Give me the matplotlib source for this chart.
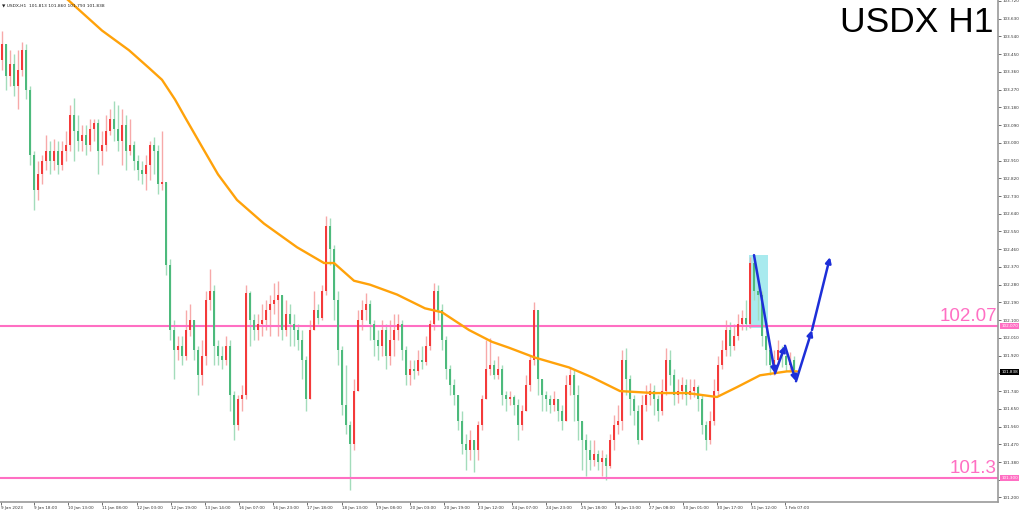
import numpy as np
import matplotlib
matplotlib.use("Agg")
import matplotlib.pyplot as plt
from matplotlib.patches import Rectangle

# ---- data (hourly candles, resampled ~2 bars each) ----
first_open = 103.42
closes = [
    103.50, 103.34, 103.40, 103.29, 103.37, 103.47, 103.27, 102.94, 102.76, 102.84,
    102.91, 102.96, 102.91, 102.96, 102.89, 102.96, 102.99, 103.14, 103.06, 103.01,
    103.04, 102.99, 103.07, 103.10, 102.96, 102.99, 103.06, 103.12, 103.07, 103.01,
    103.09, 102.96, 102.99, 102.91, 102.86, 102.84, 102.89, 102.99, 102.96, 102.79,
    102.80, 102.38, 102.05, 101.95, 101.97, 101.92, 102.05, 102.10, 101.95, 101.82,
    101.92, 102.20, 102.25, 101.97, 101.92, 101.90, 101.97, 101.72, 101.57, 101.70,
    101.72, 102.24, 102.10, 102.05, 102.08, 102.10, 102.15, 102.18, 102.20, 102.23,
    102.05, 102.13, 102.08, 102.05, 102.00, 101.90, 101.70, 102.05, 102.15, 102.11,
    102.25, 102.58, 102.46, 102.20, 101.95, 101.67, 101.57, 101.47, 101.74, 102.10,
    102.15, 102.18, 102.08, 102.00, 101.97, 102.05, 101.92, 102.00, 102.05, 102.08,
    101.95, 101.82, 101.85, 101.84, 101.90, 101.89, 101.97, 102.08, 102.25, 102.15,
    102.00, 101.85, 101.77, 101.72, 101.59, 101.47, 101.44, 101.49, 101.44, 101.57,
    101.70, 101.85, 101.87, 101.82, 101.85, 101.72, 101.70, 101.71, 101.67, 101.57,
    101.64, 101.77, 101.90, 102.15, 101.80, 101.72, 101.70, 101.67, 101.70, 101.64,
    101.59, 101.77, 101.82, 101.72, 101.59, 101.49, 101.44, 101.39, 101.42, 101.38,
    101.40, 101.36, 101.49, 101.57, 101.59, 101.90, 101.80, 101.70, 101.64, 101.49,
    101.67, 101.72, 101.74, 101.70, 101.64, 101.74, 101.90, 101.82, 101.72, 101.74,
    101.77, 101.72, 101.74, 101.76, 101.70, 101.57, 101.49, 101.59, 101.74, 101.87,
    101.95, 102.05, 101.97, 102.02, 102.08, 102.11, 102.08, 102.39, 102.25, 102.23,
    102.02, 101.95, 101.87, 101.90, 101.95, 101.92, 101.87, 101.90, 101.84,
]
highs = [
    103.57, 103.50, 103.47, 103.45, 103.47, 103.51, 103.50, 103.29, 102.96, 102.91,
    102.94, 103.04, 103.01, 103.02, 103.01, 103.01, 103.06, 103.19, 103.23, 103.14,
    103.09, 103.09, 103.12, 103.12, 103.12, 103.06, 103.14, 103.17, 103.21, 103.19,
    103.17, 103.14, 103.12, 103.01, 102.94, 102.91, 102.94, 103.01, 103.03, 102.99,
    103.06, 102.80, 102.41, 102.10, 102.02, 102.02, 102.15, 102.18, 102.10, 101.97,
    102.00, 102.25, 102.36, 102.28, 102.00, 101.97, 102.02, 102.00, 101.74, 101.72,
    101.77, 102.28, 102.25, 102.13, 102.13, 102.18, 102.20, 102.23, 102.29, 102.30,
    102.23, 102.20, 102.18, 102.13, 102.08, 102.05, 101.92, 102.10, 102.25, 102.18,
    102.28, 102.63, 102.62, 102.48, 102.25, 101.97, 101.87, 101.59, 101.80, 102.15,
    102.20, 102.24, 102.20, 102.10, 102.05, 102.10, 102.08, 102.10, 102.13, 102.13,
    102.10, 101.97, 101.90, 101.90, 101.95, 101.97, 102.02, 102.10, 102.29, 102.28,
    102.18, 102.02, 101.87, 101.80, 101.72, 101.64, 101.52, 101.54, 101.49, 101.59,
    101.72, 102.00, 102.01, 101.90, 101.92, 101.87, 101.74, 101.74, 101.72, 101.70,
    101.67, 101.82, 101.92, 102.19, 102.15, 101.80, 101.74, 101.72, 101.74, 101.70,
    101.67, 101.82, 101.86, 101.85, 101.77, 101.59, 101.52, 101.49, 101.49, 101.44,
    101.44, 101.42, 101.52, 101.62, 101.67, 101.95, 101.96, 101.82, 101.72, 101.67,
    101.72, 101.77, 101.78, 101.77, 101.72, 101.80, 101.96, 101.95, 101.85, 101.80,
    101.81, 101.80, 101.80, 101.80, 101.77, 101.72, 101.59, 101.64, 101.80, 101.92,
    102.00, 102.10, 102.09, 102.08, 102.13, 102.15, 102.20, 102.42, 102.42, 102.30,
    102.25, 102.05, 101.97, 101.95, 102.00, 101.97, 101.95, 101.94, 101.92,
]
lows = [
    103.37, 103.27, 103.29, 103.24, 103.17, 103.34, 103.22, 102.89, 102.66, 102.71,
    102.79, 102.86, 102.84, 102.86, 102.84, 102.86, 102.91, 102.96, 102.91, 102.96,
    102.96, 102.94, 102.96, 103.01, 102.84, 102.89, 102.96, 103.04, 103.01, 102.96,
    102.89, 102.86, 102.94, 102.86, 102.81, 102.79, 102.76, 102.81, 102.84, 102.74,
    102.76, 102.33, 102.00, 101.80, 101.90, 101.87, 101.90, 102.02, 101.90, 101.72,
    101.77, 101.87, 102.15, 101.87, 101.87, 101.85, 101.87, 101.64, 101.49, 101.54,
    101.64, 101.70, 101.97, 102.00, 102.00, 102.02, 102.05, 102.02, 102.13, 102.02,
    102.00, 102.02, 101.97, 101.97, 101.95, 101.80, 101.64, 101.70, 102.05, 102.08,
    102.10, 102.23, 102.38, 102.10, 101.87, 101.62, 101.52, 101.24, 101.44, 101.74,
    102.05, 102.10, 102.00, 101.92, 101.90, 101.92, 101.85, 101.87, 101.92, 102.00,
    101.90, 101.77, 101.77, 101.80, 101.82, 101.85, 101.87, 101.95, 102.05, 102.10,
    101.95, 101.80, 101.72, 101.67, 101.54, 101.42, 101.34, 101.39, 101.33, 101.39,
    101.54, 101.70, 101.82, 101.80, 101.80, 101.67, 101.64, 101.67, 101.62, 101.49,
    101.54, 101.64, 101.74, 101.87, 101.72, 101.64, 101.64, 101.63, 101.64, 101.59,
    101.54, 101.59, 101.72, 101.59, 101.49, 101.34, 101.31, 101.34, 101.36, 101.34,
    101.31, 101.29, 101.35, 101.44, 101.52, 101.54, 101.72, 101.62, 101.57, 101.47,
    101.49, 101.64, 101.67, 101.62, 101.59, 101.62, 101.72, 101.77, 101.67, 101.68,
    101.70, 101.67, 101.70, 101.71, 101.64, 101.52, 101.44, 101.47, 101.57, 101.72,
    101.85, 101.92, 101.92, 101.95, 102.00, 102.05, 102.05, 102.06, 102.20, 102.10,
    101.97, 101.87, 101.82, 101.82, 101.87, 101.86, 101.84, 101.84, 101.81,
]

# moving average (bar position, value)
ma_pos = [13.75, 16.25, 25, 31.75, 36.75, 40, 43.25, 45.75, 50, 54, 58.75, 65.5, 73.75,
          80.5, 83, 88, 92, 98.75, 105.75, 110, 116.75, 122.5, 126.75, 133.25,
          141.75, 147.5, 154.5, 163, 171.25, 178.75, 183.75, 189.5, 196.25, 198.75]
ma_val = [103.77, 103.73, 103.57, 103.47, 103.38, 103.32, 103.22, 103.13, 102.98,
          102.84, 102.71, 102.59, 102.47, 102.39, 102.39, 102.30, 102.28, 102.23,
          102.16, 102.14, 102.05, 101.99, 101.96, 101.91, 101.86, 101.81, 101.74,
          101.73, 101.73, 101.71, 101.76, 101.82, 101.84, 101.84]

# projected path (blue arrows)
path_pos = [188, 193.25, 195.75, 198.5, 202.5, 207]
path_val = [102.43, 101.83, 101.97, 101.79, 102.05, 102.42]

levels = [102.07, 101.3]
level_labels = ["102.07", "101.3"]
last_price = 101.838

tick_pos = [-0.25, 8, 16.5, 25, 33.75, 42.25, 50.75, 59.25, 67.75, 76.25, 85, 93.5,
            102, 110.5, 119, 127.5, 136, 144.75, 153.25, 161.75, 170.25, 178.75,
            187.25, 195.75]
tick_labels = ["9 Jan 2023", "9 Jan 18:00", "10 Jan 13:00", "11 Jan 08:00",
               "12 Jan 03:00", "12 Jan 19:00", "13 Jan 14:00", "16 Jan 07:00",
               "16 Jan 23:00", "17 Jan 18:00", "18 Jan 13:00", "19 Jan 08:00",
               "20 Jan 03:00", "20 Jan 19:00", "23 Jan 12:00", "24 Jan 07:00",
               "24 Jan 23:00", "25 Jan 18:00", "26 Jan 13:00", "27 Jan 08:00",
               "30 Jan 01:00", "30 Jan 17:00", "31 Jan 12:00", "1 Feb 07:00"]

# ---- figure ----
fig = plt.figure(figsize=(10.24, 5.13), dpi=100)
ax = fig.add_axes([0, 11 / 513, 998 / 1024, 502 / 513])

c = np.array(closes)
o = np.array([first_open] + closes[:-1])
h = np.maximum(np.array(highs), np.maximum(o, c))
l = np.minimum(np.array(lows), np.minimum(o, c))
x = np.arange(len(c))
up = c >= o

RED, GREEN = "#f43a3a", "#4dba7c"
RED_W, GREEN_W = "#f7a9a9", "#a3dcbb"

# cyan highlight box
ax.add_patch(Rectangle((186.75, 102.06), 4.75, 0.37, color="#a8eaee", zorder=1, lw=0))

ax.vlines(x[up], l[up], h[up], color=RED_W, lw=1.0, zorder=2)
ax.vlines(x[~up], l[~up], h[~up], color=GREEN_W, lw=1.0, zorder=2)
ax.bar(x[up], np.maximum(c[up] - o[up], 0.004), bottom=o[up], width=0.5,
       color=RED, lw=0, zorder=3)
ax.bar(x[~up], np.maximum(o[~up] - c[~up], 0.004), bottom=c[~up], width=0.5,
       color=GREEN, lw=0, zorder=3)

ax.plot(ma_pos, ma_val, color="#ffa20a", lw=1.7, zorder=4, solid_capstyle="round",
        solid_joinstyle="round")

for lv, lab in zip(levels, level_labels):
    ax.axhline(lv, color="#ff6fc3", lw=1.5, zorder=2)
    ax.text(248.7, lv + 0.006, lab, ha="right", va="bottom", fontsize=13.5,
            color="#ff6fc3", family="Liberation Sans", zorder=6)

for i in range(len(path_pos) - 1):
    ax.annotate("", xy=(path_pos[i + 1], path_val[i + 1]),
                xytext=(path_pos[i], path_val[i]),
                arrowprops=dict(arrowstyle="-|>", color="#1d2fd8", lw=1.8,
                                mutation_scale=8, shrinkA=0, shrinkB=0),
                zorder=7)

ax.set_xlim(-0.5, 249)
ax.set_ylim(101.177, 103.725)

# axes styling
for s in ["top", "left"]:
    ax.spines[s].set_visible(False)
for s in ["right", "bottom"]:
    ax.spines[s].set_color("#9a9a9a")
    ax.spines[s].set_linewidth(1.2)
ax.yaxis.tick_right()
yt = np.round(np.arange(101.20, 103.7201, 0.09), 3)
ax.set_yticks(yt)
ax.set_yticklabels([f"{v:.3f}" for v in yt])
ax.tick_params(axis="y", labelsize=3, length=2, width=0.5, pad=1.5, colors="#333333")
ax.set_xticks(tick_pos)
ax.set_xticklabels(tick_labels, ha="left")
ax.tick_params(axis="x", labelsize=3, length=2, width=0.5, pad=1, colors="#333333")

# price tags on the axis
for lv in levels:
    ax.text(1.0035, lv, f"{lv:.3f}", transform=ax.get_yaxis_transform(), fontsize=3,
            color="white", va="center", ha="left", clip_on=False,
            bbox=dict(boxstyle="square,pad=0.25", fc="#ff6fc3", ec="none"))
ax.text(1.0035, last_price, f"{last_price:.3f}", transform=ax.get_yaxis_transform(),
        fontsize=3, color="white", va="center", ha="left", clip_on=False,
        bbox=dict(boxstyle="square,pad=0.25", fc="black", ec="none"))

fig.text(0.002, 0.993, "\u25bc USDX,H1  101.813 101.860 101.793 101.838", fontsize=3.2,
         va="top", ha="left", color="#222222")
fig.text(993 / 1024, 1 - 6 / 513, "USDX H1", fontsize=25.5, va="top", ha="right",
         family="Liberation Sans", color="black")

fig.savefig("out.png", dpi=100)
